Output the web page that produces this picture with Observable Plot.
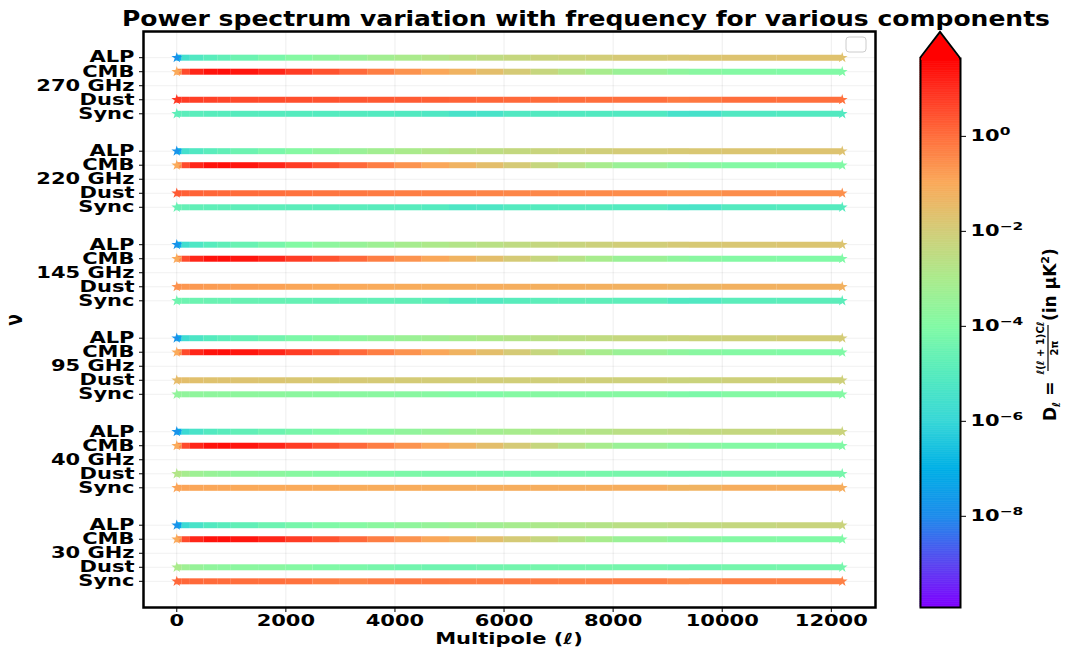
<!DOCTYPE html>
<html><head><meta charset="utf-8">
<script src="https://cdn.jsdelivr.net/npm/d3@7"></script>
<script src="https://cdn.jsdelivr.net/npm/@observablehq/plot@0.6"></script>
<style>
body{margin:0;background:#fff;}
#wrap{position:relative;width:1067px;height:648px;overflow:hidden;background:#fff;}
#wrap svg{position:absolute;left:0;top:0;}
</style></head><body><div id="wrap"></div>
<script>
// multipole knots at which the colours were read
const ells = [0, 100, 250, 500, 750, 1000, 1500, 2000, 2500, 3000, 3500, 4000, 4500, 5000, 5500, 6000, 6500, 7000, 7500, 8000, 9000, 9400, 10000, 11000, 12200];
const freqLabels = ["30 GHz", "40 GHz", "95 GHz", "145 GHz", "220 GHz", "270 GHz"];
const componentNames = ["ALP", "CMB", "Dust", "Sync"];

const cmbLog = [-1.0, 0.2, 0.9, 1.3, 1.45, 1.4, 1.25, 0.95, 0.6, 0.25, -0.1, -0.45, -0.8, -1.1, -1.4, -1.75, -2.1, -2.5, -2.9, -3.2, -3.6, -3.75, -3.9, -4.0, -4.05];
const alpLog = [
  [-7.8, -6.1, -5.6, -5.2, -5.0, -4.85, -4.6, -4.35, -4.15, -4.0, -3.85, -3.7, -3.6, -3.45, -3.3, -3.15, -3.0, -2.9, -2.8, -2.7, -2.5, -2.45, -2.4, -2.3, -2.2],
  [-7.8, -6.1, -5.6, -5.2, -5.0, -4.85, -4.6, -4.35, -4.15, -4.0, -3.85, -3.7, -3.55, -3.4, -3.25, -3.1, -3.0, -2.9, -2.8, -2.7, -2.5, -2.45, -2.4, -2.3, -2.2],
  [-7.8, -6.0, -5.5, -5.1, -4.9, -4.75, -4.5, -4.25, -4.0, -3.8, -3.6, -3.45, -3.3, -3.15, -3.0, -2.85, -2.7, -2.6, -2.5, -2.4, -2.25, -2.2, -2.15, -2.05, -1.95],
  [-7.8, -5.9, -5.4, -5.05, -4.85, -4.7, -4.4, -4.1, -3.85, -3.6, -3.4, -3.2, -3.0, -2.85, -2.7, -2.55, -2.4, -2.3, -2.2, -2.1, -1.95, -1.9, -1.85, -1.8, -1.75],
  [-7.8, -5.8, -5.3, -5.0, -4.8, -4.65, -4.35, -4.05, -3.8, -3.55, -3.3, -3.1, -2.9, -2.75, -2.6, -2.45, -2.3, -2.2, -2.1, -2.0, -1.9, -1.85, -1.8, -1.75, -1.7],
  [-7.8, -5.8, -5.3, -5.0, -4.8, -4.65, -4.35, -4.05, -3.8, -3.55, -3.3, -3.1, -2.9, -2.7, -2.55, -2.4, -2.25, -2.15, -2.05, -1.95, -1.85, -1.8, -1.75, -1.7, -1.65]
];
const dustLog = [
  [-3.0, -3.2, -3.4, -3.6, -3.7, -3.75, -3.8, -3.85, -4.0, -4.1, -4.2, -4.3, -4.4, -4.45, -4.4, -4.35, -4.3, -4.3, -4.3, -4.3, -4.3, -4.5, -4.3, -4.3, -4.3],
  [-2.8, -3.0, -3.2, -3.4, -3.5, -3.6, -3.7, -3.8, -3.9, -4.0, -4.05, -4.1, -4.15, -4.2, -4.2, -4.2, -4.2, -4.2, -4.2, -4.25, -4.25, -4.45, -4.25, -4.25, -4.25],
  [-1.5, -1.55, -1.6, -1.65, -1.7, -1.7, -1.75, -1.8, -1.85, -1.9, -1.9, -1.95, -1.95, -2.0, -2.0, -2.0, -2.05, -2.05, -2.05, -2.1, -2.1, -2.3, -2.1, -2.1, -2.1],
  [-0.6, -0.65, -0.7, -0.75, -0.8, -0.8, -0.85, -0.9, -0.95, -1.0, -1.0, -1.05, -1.05, -1.1, -1.1, -1.1, -1.15, -1.15, -1.15, -1.2, -1.2, -1.4, -1.2, -1.2, -1.2],
  [0.3, 0.25, 0.2, 0.15, 0.1, 0.05, 0.0, -0.05, -0.1, -0.15, -0.2, -0.25, -0.3, -0.3, -0.35, -0.4, -0.4, -0.45, -0.45, -0.5, -0.5, -0.8, -0.5, -0.55, -0.55],
  [0.85, 0.8, 0.75, 0.7, 0.65, 0.6, 0.55, 0.5, 0.45, 0.4, 0.35, 0.3, 0.25, 0.2, 0.15, 0.1, 0.05, 0.05, 0.0, 0.0, -0.05, -0.35, 0.0, 0.0, -0.05]
];
const syncLog = [
  [0.1, 0.1, 0.1, 0.05, 0.05, 0.0, 0.0, -0.05, -0.1, -0.4, -0.3, -0.15, -0.15, -0.2, -0.2, -0.2, -0.2, -0.25, -0.25, -0.25, -0.3, -0.6, -0.3, -0.3, -0.3],
  [-0.9, -0.9, -0.9, -0.95, -0.95, -0.95, -1.0, -1.0, -1.0, -1.05, -1.05, -1.05, -1.05, -1.1, -1.1, -1.1, -1.1, -1.1, -1.1, -1.1, -1.1, -1.4, -1.1, -1.1, -1.1],
  [-3.6, -3.6, -3.65, -3.65, -3.7, -3.7, -3.7, -3.75, -3.75, -3.8, -3.8, -3.8, -3.85, -3.9, -4.1, -3.95, -3.9, -3.9, -3.9, -3.9, -3.9, -4.3, -3.95, -3.95, -3.95],
  [-4.4, -4.45, -4.5, -4.5, -4.55, -4.55, -4.6, -4.6, -4.65, -4.65, -4.7, -4.7, -4.75, -4.9, -5.2, -5.0, -4.85, -4.8, -4.8, -4.8, -4.85, -5.4, -4.9, -4.85, -4.85],
  [-4.6, -4.65, -4.7, -4.75, -4.75, -4.8, -4.8, -4.85, -4.85, -4.9, -4.9, -4.95, -4.95, -5.1, -5.4, -5.1, -5.0, -5.0, -5.0, -5.0, -5.05, -5.6, -5.1, -5.0, -5.0],
  [-4.8, -4.85, -4.9, -4.9, -4.95, -4.95, -5.0, -5.0, -5.0, -5.05, -5.05, -5.1, -5.1, -5.3, -5.6, -5.2, -5.1, -5.1, -5.1, -5.1, -5.15, -5.8, -5.2, -5.1, -5.1]
];

// colour bar: log10 stops and colours, tick exponents
const cbLog = [-9.92, -9, -8, -7, -6, -5, -4, -3, -2, -1, 0, 1, 1.64];
const cbColors = ["#7f00ff", "#5a46f0", "#1e8ceb", "#00b0e6", "#37d7d7", "#55ebbe", "#82faa5", "#aaeb8c", "#d2cd78", "#faaa5a", "#ff6e3c", "#ff2d1e", "#ff0000"];
const cbTickExp = [-8, -6, -4, -2, 0];
const xTicks = [0, 2000, 4000, 6000, 8000, 10000, 12000];

const titleText = "Power spectrum variation with frequency for various components";
const xLabelText = "Multipole (\u2113)";
const yLabelText = "\u03bd";

// ---- build tables ----
const seriesByComp = {ALP: alpLog, CMB: freqLabels.map(() => cmbLog), Dust: dustLog, Sync: syncLog};
const offsets = {ALP: 0.6, CMB: 0.3, Dust: -0.3, Sync: -0.6};
const segs = [], ends = [], yTickVals = [], yTickText = new Map();
freqLabels.forEach((f, fi) => {
  yTickVals.push(2 * fi); yTickText.set(Math.round(20 * fi), f);
  componentNames.forEach(c => {
    const vals = seriesByComp[c][fi];
    const y = 2 * fi + offsets[c];
    yTickVals.push(y); yTickText.set(Math.round(y * 10), c);
    for (let i = 0; i < ells.length - 1; i++)
      segs.push({x1: ells[i], x2: ells[i + 1], y, D: Math.pow(10, (vals[i] + vals[i + 1]) / 2)});
    ends.push({x: ells[0], y, D: Math.pow(10, vals[0])});
    ends.push({x: ells[ells.length - 1], y, D: Math.pow(10, vals[vals.length - 1])});
  });
});

const cbMin = cbLog[0], cbMax = cbLog[cbLog.length - 1];
const tStops = cbLog.map(v => (v - cbMin) / (cbMax - cbMin));
const cmap = d3.scaleLinear().domain(tStops).range(cbColors).interpolate(d3.interpolateRgb).clamp(true);
const colorOpts = {type: "log", domain: [Math.pow(10, cbMin), Math.pow(10, cbMax)], interpolate: t => cmap(t), clamp: true};

const S = 1.4; // horizontal stretch of the reference text
const style = {fontFamily: "DejaVu Sans", fontSize: "15px", fontWeight: "bold", color: "#000", background: "transparent", overflow: "visible"};

const main = Plot.plot({
  width: 1067, height: 648,
  marginLeft: 143, marginRight: 192, marginTop: 31, marginBottom: 41,
  style,
  x: {domain: [-610, 12810], ticks: xTicks, tickFormat: d => String(d), tickSize: 5, tickPadding: 3, label: null},
  y: {domain: [-1.16, 11.16], ticks: yTickVals, tickFormat: v => yTickText.get(Math.round(v * 10)), tickSize: 4, tickPadding: 5, label: null},
  color: colorOpts,
  marks: [
    Plot.ruleX(xTicks, {stroke: "#000", strokeOpacity: 0.07}),
    Plot.ruleY(yTickVals, {stroke: "#000", strokeOpacity: 0.06}),
    Plot.ruleY(segs, {y: "y", x1: "x1", x2: "x2", stroke: "D", strokeWidth: 6}),
    Plot.dot(ends, {x: "x", y: "y", fill: "D", symbol: "star", r: 3.4}),
    Plot.frame({stroke: "#000", strokeWidth: 2.5})
  ]
});

const bins = d3.range(300).map(i => {
  const a = cbMin + (cbMax - cbMin) * i / 300, b = cbMin + (cbMax - cbMin) * (i + 1) / 300;
  return {lo: Math.pow(10, a), hi: Math.pow(10, b), mid: Math.pow(10, (a + b) / 2)};
});
const cb = Plot.plot({
  width: 1067, height: 648,
  marginLeft: 920, marginRight: 107, marginTop: 58, marginBottom: 41,
  style,
  x: {axis: null, domain: [0, 1]},
  y: {type: "log", domain: [Math.pow(10, cbMin), Math.pow(10, cbMax)], axis: "right", ticks: cbTickExp.map(e => Math.pow(10, e)),
      tickFormat: v => "10|" + String(Math.round(Math.log10(v))).replace("-", "\u2212"),
      tickSize: 5, tickPadding: 5, label: null},
  color: colorOpts,
  marks: [
    Plot.rect(bins, {x1: 0, x2: 1, y1: "lo", y2: "hi", fill: "mid", stroke: "mid", strokeWidth: 0.6}),
    Plot.frame({stroke: "#000", strokeWidth: 2})
  ]
});

const wrap = document.getElementById("wrap");
wrap.appendChild(main);
wrap.appendChild(cb);

const NS = "http://www.w3.org/2000/svg";
function el(parent, tag, attrs, text) {
  const e = document.createElementNS(NS, tag);
  for (const k in attrs) e.setAttribute(k, attrs[k]);
  if (text != null) e.textContent = text;
  parent.appendChild(e);
  return e;
}
// colour-bar tick labels as 10 with a raised exponent
cb.querySelectorAll("text").forEach(t => {
  const s = t.textContent;
  if (s.indexOf("|") < 0) return;
  const [base, ex] = s.split("|");
  t.textContent = "";
  el(t, "tspan", {}, base);
  el(t, "tspan", {"font-size": 11, dy: -6}, ex);
});
function stretchAll(svg) {
  svg.querySelectorAll("text").forEach(t => {
    const L = t.getComputedTextLength();
    if (L > 0) { t.setAttribute("textLength", L * S); t.setAttribute("lengthAdjust", "spacingAndGlyphs"); }
  });
}
stretchAll(main);
stretchAll(cb);

// title, axis labels
el(main, "text", {x: 122, y: 26, "text-anchor": "start", "font-size": 22, "font-weight": "bold", "font-family": "DejaVu Sans", fill: "#000", textLength: 928, lengthAdjust: "spacingAndGlyphs"}, titleText);
const xl = el(main, "text", {x: 509, y: 644, "text-anchor": "middle", "font-size": 15, "font-weight": "bold", "font-family": "DejaVu Sans", fill: "#000"}, xLabelText);
xl.setAttribute("textLength", xl.getComputedTextLength() * S); xl.setAttribute("lengthAdjust", "spacingAndGlyphs");
const yg = el(main, "g", {transform: "translate(22,320) scale(1.4,1) rotate(-90)"});
el(yg, "text", {x: 0, y: 0, "text-anchor": "middle", "font-size": 17, "font-weight": "bold", "font-family": "DejaVu Sans", fill: "#000"}, yLabelText);

// empty legend box
el(main, "rect", {x: 846, y: 37, width: 20, height: 15, rx: 3, fill: "#fff", stroke: "#ccc", "stroke-width": 1});

// colour bar extension arrow
el(cb, "polygon", {points: "921,60 959,60 959,58 940,33 921,58", fill: cmap(1)});
el(cb, "polyline", {points: "920,58 940,32 960,58", fill: "none", stroke: "#000", "stroke-width": 2});

// colour bar label (rotated)
const lg = el(cb, "g", {transform: "translate(1056,338) rotate(-90)", "font-family": "DejaVu Sans", "font-weight": "bold", fill: "#000", "text-anchor": "start"});
const t1 = el(lg, "text", {x: -83, y: 0, "font-size": 17, "text-anchor": "start"});
el(t1, "tspan", {}, "D");
el(t1, "tspan", {"font-size": 11, dy: 4}, "\u2113");
el(t1, "tspan", {dy: -4}, " =");
el(lg, "text", {x: -10, y: -12, "text-anchor": "middle", "font-size": 10}, "\u2113(\u2113 + 1)C\u2113");
el(lg, "line", {x1: -33, x2: 13, y1: -8, y2: -8, stroke: "#000", "stroke-width": 1.2});
el(lg, "text", {x: -10, y: 2, "text-anchor": "middle", "font-size": 10}, "2\u03c0");
const t3 = el(lg, "text", {x: 17, y: 0, "font-size": 17, "text-anchor": "start"});
el(t3, "tspan", {}, "(in \u03bcK");
el(t3, "tspan", {"font-size": 11, dy: -7}, "2");
el(t3, "tspan", {dy: 7}, ")");
</script></body></html>
